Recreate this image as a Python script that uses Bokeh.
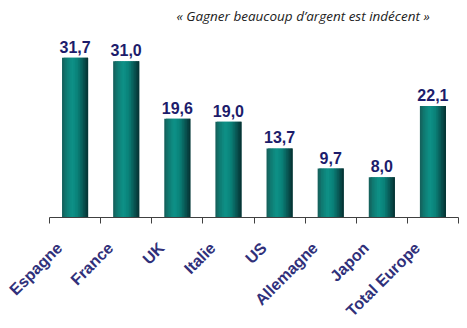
import numpy as np
from bokeh.plotting import figure
from bokeh.models import ColumnDataSource, LabelSet, Label, FixedTicker, Range1d
from bokeh.core.properties import value
from bokeh.embed import file_html
from bokeh.resources import INLINE

# ---- data ----
categories = ["Espagne", "France", "UK", "Italie", "US", "Allemagne", "Japon", "Total Europe"]
values = [31.7, 31.0, 19.6, 19.0, 13.7, 9.7, 8.0, 22.1]
value_labels = [f"{v:.1f}".replace(".", ",") for v in values]
title_text = "\u00ab Gagner beaucoup d\u2019argent est ind\u00e9cent \u00bb"

n = len(categories)
xs = np.arange(n) + 0.5

W, H = 467, 328
p = figure(width=W, height=H, output_backend="svg", toolbar_location=None,
           x_range=Range1d(0, n), y_range=Range1d(0, 43.05),
           min_border_left=49, min_border_right=9, min_border_top=0, min_border_bottom=111)
p.outline_line_color = None
p.background_fill_color = "white"
p.border_fill_color = "white"
p.xgrid.visible = False
p.ygrid.visible = False
p.yaxis.visible = False

pad = "\u00a0" * 5
ax = p.xaxis[0]
ax.ticker = FixedTicker(ticks=list(xs), minor_ticks=list(range(n + 1)))
ax.major_label_overrides = {float(x): c + pad for x, c in zip(xs, categories)}
ax.major_label_orientation = np.pi / 4
ax.major_label_standoff = 6
ax.major_label_text_font = "Arial"
ax.major_label_text_font_style = "bold"
ax.major_label_text_font_size = "16px"
ax.major_label_text_color = "#30307a"
ax.major_tick_in = 0
ax.major_tick_out = 0
ax.minor_tick_in = 0
ax.minor_tick_out = 6
ax.axis_line_color = "#404040"
ax.minor_tick_line_color = "#404040"
ax.axis_line_width = 1

# ---- cylindrical gradient bars ----
bar_w = 0.51
stops = [(0.0, (22, 92, 88)), (0.15, (16, 120, 112)), (0.38, (14, 146, 136)),
         (0.6, (10, 128, 120)), (0.85, (8, 78, 76)), (1.0, (6, 48, 48))]

def grad(t):
    for (t0, c0), (t1, c1) in zip(stops[:-1], stops[1:]):
        if t <= t1:
            f = (t - t0) / (t1 - t0)
            return "#%02x%02x%02x" % tuple(int(round(a + (b - a) * f)) for a, b in zip(c0, c1))
    return "#%02x%02x%02x" % stops[-1][1]

k = 16
sw = bar_w / k
for i in range(k):
    t = (i + 0.5) / k
    left = -bar_w / 2 + i * sw
    right = left + 2 * sw if i < k - 1 else bar_w / 2
    src = ColumnDataSource(dict(l=xs + left, r=xs + right, top=values))
    p.quad(left="l", right="r", top="top", bottom=0, source=src,
           fill_color=grad(t), line_color=None)

# ---- value labels ----
vsrc = ColumnDataSource(dict(x=xs, y=values, t=value_labels))
p.add_layout(LabelSet(x="x", y="y", text="t", source=vsrc, y_offset=5,
                      text_align="center", text_baseline="alphabetic",
                      text_font=value("Arial"), text_font_style="bold",
                      text_font_size="16px", text_color="#1c1c6b"))

# ---- title ----
p.add_layout(Label(x=n * 0.62, y=39.9, text=title_text, text_align="center",
                   text_baseline="middle", text_font="Open Sans",
                   text_font_style="italic", text_font_size="13.5px", text_color="#222222"))

open("out.html", "w").write(file_html(p, INLINE))
